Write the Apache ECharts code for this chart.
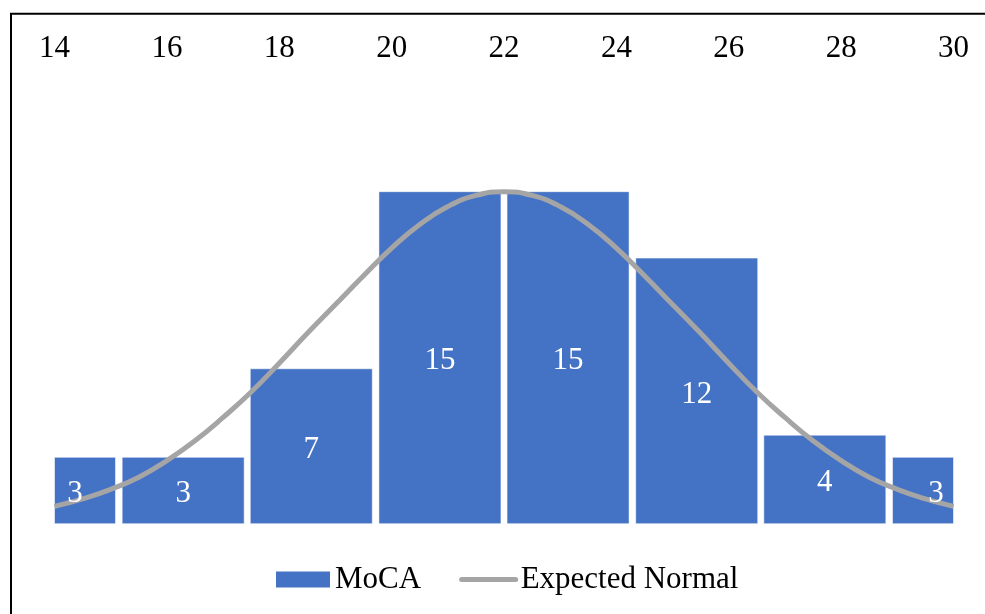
<!DOCTYPE html>
<html>
<head>
<meta charset="utf-8">
<title>MoCA histogram</title>
<script src="https://cdn.jsdelivr.net/npm/echarts@6/dist/echarts.min.js"></script>
<style>
  html, body { margin: 0; padding: 0; background: #fff; }
  #chart { width: 985px; height: 614px; }
</style>
</head>
<body>
<div id="chart"></div>
<script>
// MoCA score histogram: bin centres and counts
const binCenters = [14, 16.29, 18.57, 20.86, 23.14, 25.43, 27.71, 30];
const counts = [3, 3, 7, 15, 15, 12, 4, 3];
const binWidth = 16 / 7;

// Axis tick labels along the top
const xTicks = [14, 16, 18, 20, 22, 24, 26, 28, 30];

// Expected normal curve, sampled every half point
const curveX = [14, 14.5, 15, 15.5, 16, 16.5, 17, 17.5, 18, 18.5, 19, 19.5, 20, 20.5, 21, 21.5,
                22, 22.5, 23, 23.5, 24, 24.5, 25, 25.5, 26, 26.5, 27, 27.5, 28, 28.5, 29, 29.5, 30];
const curveY = [0.78, 1.12, 1.55, 2.1, 2.85, 3.75, 4.8, 5.95, 7.25, 8.6, 9.9, 11.2, 12.45, 13.52, 14.33, 14.83,
                15.0, 14.83, 14.33, 13.52, 12.45, 11.2, 9.9, 8.6, 7.25, 5.95, 4.8, 3.75, 2.85, 2.1, 1.55, 1.12, 0.78];

const FONT = '"Liberation Serif", "Times New Roman", serif';
const BLUE = '#4472C4';
const GREY = '#A5A5A5';
const BAR_GAP = 6.4;

const chart = echarts.init(document.getElementById('chart'), null, { renderer: 'canvas' });

const histData = binCenters.map((c, i) => [c, counts[i]]);
const curveData = curveX.map((x, i) => [x, curveY[i]]);

function barRect(params, api) {
  const c = api.value(0);
  const v = api.value(1);
  const slot = api.size([binWidth, 0])[0];
  const w = slot - BAR_GAP;
  const top = api.coord([c, v]);
  const base = api.coord([c, 0]);
  const full = { x: top[0] - w / 2, y: top[1], width: w, height: base[1] - top[1] };
  const cs = params.coordSys;
  const clipped = echarts.graphic.clipRectByRect(full, { x: cs.x, y: cs.y, width: cs.width, height: cs.height });
  return { full, clipped };
}

function renderBar(params, api) {
  const r = barRect(params, api);
  if (!r.clipped) return;
  return {
    type: 'rect',
    shape: r.clipped,
    style: { fill: BLUE, stroke: 'rgba(255,255,255,0.55)', lineWidth: 1 }
  };
}

function renderLabel(params, api) {
  const r = barRect(params, api);
  if (!r.clipped) return;
  const k = r.clipped;
  let x = k.x + k.width / 2;
  if (k.x > r.full.x + 0.5) x -= 10;
  else if (k.x + k.width < r.full.x + r.full.width - 0.5) x += 13;
  return {
    type: 'text',
    x: x,
    y: k.y + k.height / 2 + 3.5,
    style: {
      text: String(api.value(1)),
      fill: '#fff',
      font: '31px ' + FONT,
      align: 'center',
      verticalAlign: 'middle'
    }
  };
}

const option = {
  animation: false,
  backgroundColor: '#fff',
  textStyle: { fontFamily: FONT },
  grid: { left: 54.5, right: 31.5, top: 81, bottom: 90.3 },
  xAxis: {
    type: 'value',
    position: 'top',
    min: xTicks[0],
    max: xTicks[xTicks.length - 1],
    interval: xTicks[1] - xTicks[0],
    axisLine: { show: false },
    axisTick: { show: false },
    splitLine: { show: false },
    axisLabel: { color: '#000', fontSize: 31, fontFamily: FONT, margin: 17 }
  },
  yAxis: {
    type: 'value',
    min: 0,
    max: 20,
    show: false,
    splitLine: { show: false }
  },
  legend: {
    data: [
      { name: 'MoCA', icon: 'rect' },
      {
        name: 'Expected Normal',
        itemStyle: { opacity: 0 },
        lineStyle: { width: 5, cap: 'round', color: GREY }
      }
    ],
    left: 276,
    top: 564,
    padding: 0,
    itemWidth: 54,
    itemHeight: 16,
    itemGap: 38,
    textStyle: { color: '#000', fontSize: 31, fontFamily: FONT }
  },
  graphic: [{
    type: 'rect',
    silent: true,
    shape: { x: 11, y: 13.7, width: 1100, height: 800 },
    style: { fill: 'none', stroke: '#000', lineWidth: 2 },
    z: 100
  }],
  series: [
    {
      name: 'MoCA',
      type: 'custom',
      renderItem: renderBar,
      data: histData,
      itemStyle: { color: BLUE },
      encode: { x: 0, y: 1 },
      z: 1
    },
    {
      name: 'Expected Normal',
      type: 'line',
      data: curveData,
      smooth: true,
      symbol: 'none',
      showSymbol: false,
      lineStyle: { color: GREY, width: 5 },
      itemStyle: { color: GREY },
      z: 2
    },
    {
      name: 'MoCA labels',
      type: 'custom',
      renderItem: renderLabel,
      data: histData,
      encode: { x: 0, y: 1 },
      silent: true,
      z: 3
    }
  ]
};

chart.setOption(option);
</script>
</body>
</html>
